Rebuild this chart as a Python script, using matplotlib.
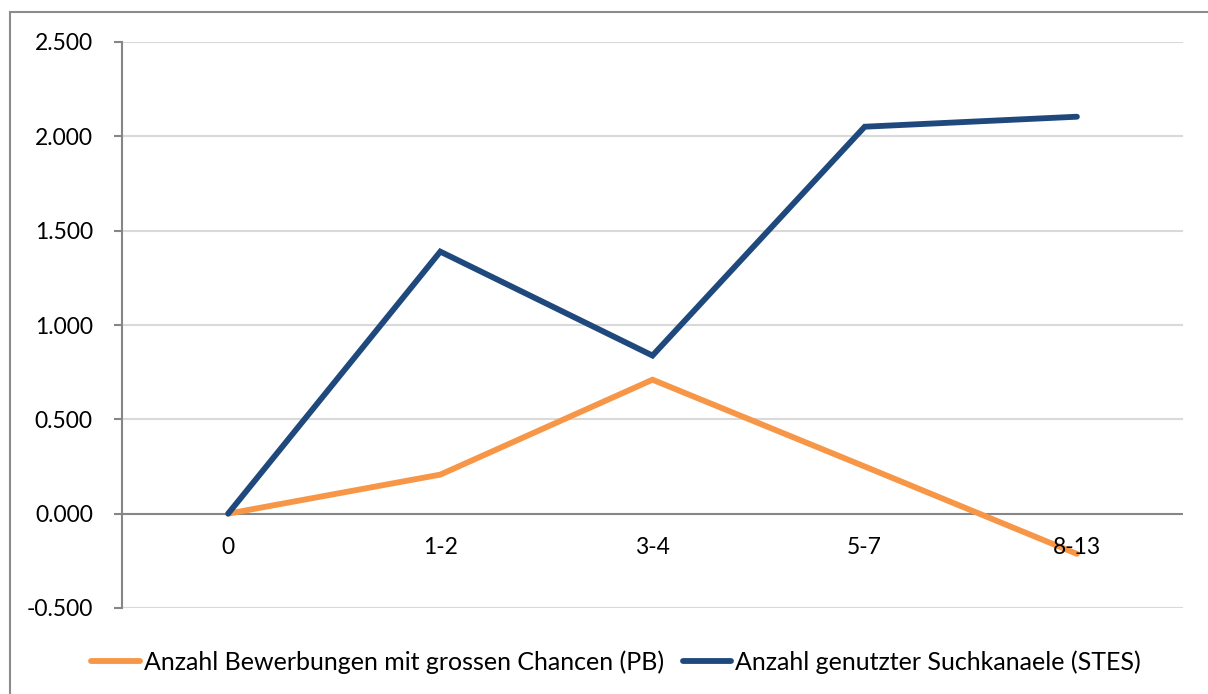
import matplotlib
matplotlib.use('Agg')
import matplotlib.pyplot as plt
from matplotlib.patches import Rectangle
from matplotlib.lines import Line2D

# data
categories = ['0', '1-2', '3-4', '5-7', '8-13']
pb_values = [0.0, 0.207, 0.710, 0.250, -0.213]
stes_values = [0.0, 1.389, 0.838, 2.051, 2.104]
pb_label = 'Anzahl Bewerbungen mit grossen Chancen (PB)'
stes_label = 'Anzahl genutzter Suchkanaele (STES)'
yticks = [-0.5, 0.0, 0.5, 1.0, 1.5, 2.0, 2.5]

orange = '#F79646'
blue = '#1F497D'
axis_gray = '#868686'
grid_gray = '#D9D9D9'

plt.rcParams['font.family'] = ['Lato', 'DejaVu Sans']
fs = 16.5
fs_leg = 18
lw = 4.2

W, H = 1208, 694
fig = plt.figure(figsize=(W / 100, H / 100), dpi=100)
ax = fig.add_axes([122 / W, 1 - 608 / H, (1183 - 122) / W, (608 - 42) / H])

x = list(range(len(categories)))
ax.plot(x, pb_values, color=orange, lw=lw, solid_capstyle='round',
        solid_joinstyle='miter', zorder=3)
ax.plot(x, stes_values, color=blue, lw=lw, solid_capstyle='round',
        solid_joinstyle='miter', zorder=4)

ax.set_xlim(-0.5, len(categories) - 0.5)
ax.set_ylim(-0.5, 2.5)

# gridlines + zero axis
for v in yticks:
    if v == 0:
        continue
    ax.axhline(v, color=grid_gray, lw=1.5, zorder=1)
ax.axhline(0, color=axis_gray, lw=1.5, zorder=2)

ax.set_yticks(yticks)
ax.set_yticklabels([f'{v:.3f}' for v in yticks], fontsize=fs)
ax.tick_params(axis='y', length=6, width=1.5, color=axis_gray, pad=15)
ax.set_xticks([])

for s in ['top', 'right', 'bottom']:
    ax.spines[s].set_visible(False)
ax.spines['left'].set_color(axis_gray)
ax.spines['left'].set_linewidth(1.5)

# category labels sit under the zero line (drawn over the lines, like Excel)
for xi, c in zip(x, categories):
    ax.annotate(c, (xi, 0), xytext=(0, -34), textcoords='offset pixels',
                ha='center', va='center', fontsize=fs, zorder=5)

handles = [Line2D([], [], color=orange, lw=lw, solid_capstyle='round'),
           Line2D([], [], color=blue, lw=lw, solid_capstyle='round')]
fig.legend(handles, [pb_label, stes_label], loc='center',
           bbox_to_anchor=(616 / W, 1 - 662 / H), ncol=2, frameon=False,
           fontsize=fs_leg, handlelength=1.95, handletextpad=0.15,
           columnspacing=0.75, borderaxespad=0, borderpad=0)

# chart border (only top/left visible in the crop)
fig.patches.append(Rectangle((10 / W, -0.1), 1.2, 1 - 12 / H + 0.1,
                             transform=fig.transFigure, fill=False,
                             ec='#8C8C8C', lw=1.5, clip_on=False))

fig.savefig('out.png', dpi=100)
